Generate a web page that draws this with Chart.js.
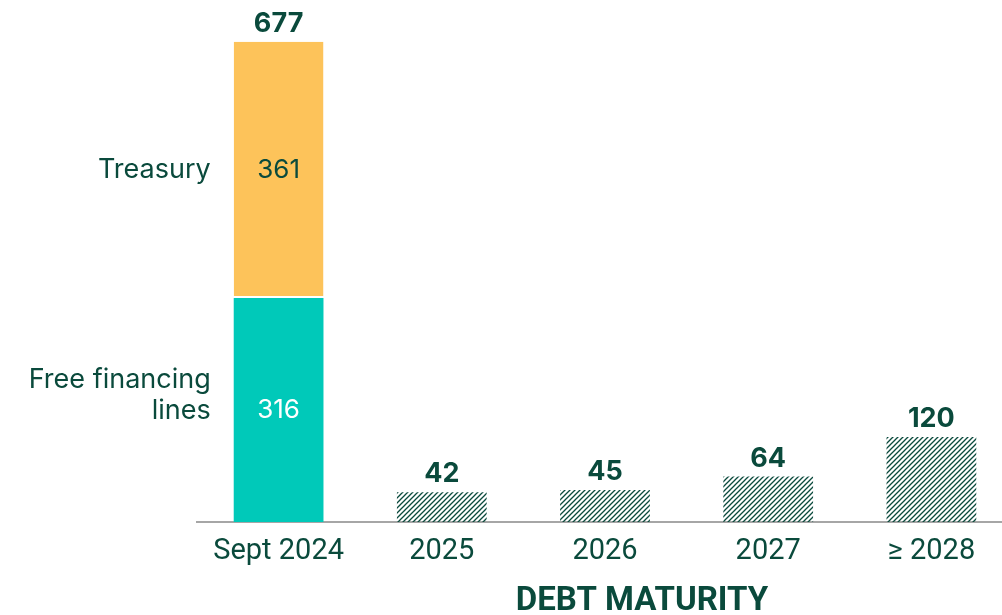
<!DOCTYPE html>
<html>
<head>
<meta charset="utf-8">
<script src="https://cdn.jsdelivr.net/npm/chart.js@4.4.0/dist/chart.umd.min.js"></script>
<style>
  html, body { margin: 0; padding: 0; background: #fff; overflow: hidden; }
  #wrap { width: 1013px; height: 615px; }
</style>
</head>
<body>
<div id="wrap"><canvas id="debtChart" width="1013" height="615"></canvas></div>
<script>
// data
const categories = ['Sept 2024', '2025', '2026', '2027', '\u2265 2028'];
const freeLines = [316, null, null, null, null];
const treasury = [361, null, null, null, null];
const maturities = [null, 42, 45, 64, 120];

const GREEN = '#0a4a3c';
const TEAL = '#00c9b9';
const YELLOW = '#fdc35a';

// diagonal hatch for the maturity bars
function hatch() {
  const c = document.createElement('canvas');
  c.width = 5; c.height = 5;
  const g = c.getContext('2d');
  g.strokeStyle = GREEN;
  g.lineWidth = 1.3;
  g.beginPath();
  g.moveTo(0, 5); g.lineTo(5, 0);
  g.moveTo(-1, 1); g.lineTo(1, -1);
  g.moveTo(4, 6); g.lineTo(6, 4);
  g.stroke();
  return g.createPattern(c, 'repeat');
}

const labelsPlugin = {
  id: 'barLabels',
  afterDatasetsDraw(chart) {
    const ctx = chart.ctx;
    ctx.save();
    ctx.textBaseline = 'middle';

    // values inside the stacked bar + side labels
    const inside = [
      { ds: 0, color: '#ffffff', side: ['Free financing', 'lines'] },
      { ds: 1, color: GREEN, side: ['Treasury'] }
    ];
    inside.forEach(item => {
      const bar = chart.getDatasetMeta(item.ds).data[0];
      const v = chart.data.datasets[item.ds].data[0];
      const mid = (bar.y + bar.base) / 2;
      ctx.font = '26px Inter, "Open Sans", sans-serif';
      ctx.fillStyle = item.color;
      ctx.textAlign = 'center';
      ctx.fillText(String(v), bar.x, mid);

      ctx.fillStyle = GREEN;
      ctx.textAlign = 'right';
      ctx.font = '27px Inter, "Open Sans", sans-serif';
      const lx = bar.x - bar.width / 2 - 23;
      const lh = 31;
      const n = item.side.length;
      item.side.forEach((t, i) => {
        ctx.fillText(t, lx, mid + (i - (n - 1) / 2) * lh - (n > 1 ? 15 : 0));
      });
    });

    // totals above each column
    ctx.font = 'bold 27px Inter, "Open Sans", sans-serif';
    ctx.fillStyle = GREEN;
    ctx.textAlign = 'center';
    ctx.textBaseline = 'alphabetic';
    categories.forEach((c, i) => {
      const total = (freeLines[i] || 0) + (treasury[i] || 0) + (maturities[i] || 0);
      let top = null;
      chart.data.datasets.forEach((d, di) => {
        if (d.data[i] != null) top = chart.getDatasetMeta(di).data[i];
      });
      if (top) ctx.fillText(String(total), top.x, top.y - 10);
    });

    // axis caption
    ctx.font = 'bold 33px Roboto, sans-serif';
    ctx.textBaseline = 'middle';
    ctx.fillText('DEBT MATURITY', 642, 602);
    ctx.restore();
  }
};

new Chart(document.getElementById('debtChart').getContext('2d'), {
  type: 'bar',
  data: {
    labels: categories,
    datasets: [
      {
        label: 'Free financing lines',
        data: freeLines,
        backgroundColor: TEAL,
        borderWidth: 0
      },
      {
        label: 'Treasury',
        data: treasury,
        backgroundColor: YELLOW,
        borderColor: '#ffffff',
        borderWidth: { top: 0, left: 0, right: 0, bottom: 2 },
        borderSkipped: false
      },
      {
        label: 'Maturities',
        data: maturities,
        backgroundColor: hatch(),
        borderWidth: 0
      }
    ]
  },
  options: {
    responsive: false,
    animation: false,
    layout: { padding: { left: 197, top: 0, right: 0, bottom: 0 } },
    datasets: { bar: { barPercentage: 0.55, categoryPercentage: 1 } },
    plugins: {
      legend: { display: false },
      tooltip: { enabled: false }
    },
    scales: {
      x: {
        stacked: true,
        grid: { display: false, drawTicks: false },
        border: { color: '#a6a6a6', width: 2 },
        ticks: {
          color: GREEN,
          padding: 12,
          font: { family: 'Roboto, sans-serif', size: 29 }
        },
        afterFit(scale) { scale.height = 93; }
      },
      y: {
        display: false,
        stacked: true,
        min: 0,
        max: 736
      }
    }
  },
  plugins: [labelsPlugin]
});
</script>
</body>
</html>
